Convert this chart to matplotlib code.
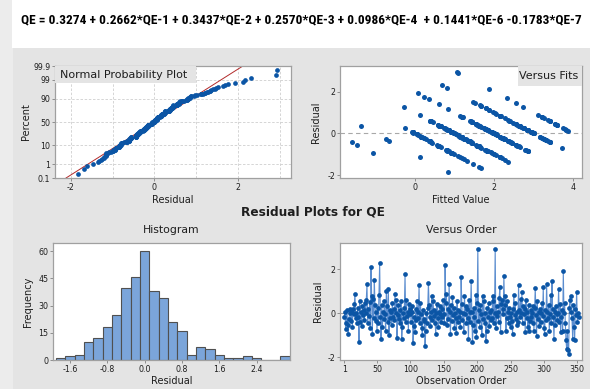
import matplotlib
matplotlib.use("Agg")
import matplotlib.pyplot as plt
from matplotlib import font_manager
from matplotlib.patches import Rectangle
from statistics import NormalDist
import numpy as np

# ---------------- data ----------------
equation = ("QE = 0.3274 + 0.2662*QE-1 + 0.3437*QE-2 + 0.2570*QE-3 + 0.0986*QE-4 "
            " + 0.1441*QE-6 -0.1783*QE-7")

# residuals in observation order
residuals = [
    -0.18, 0.05, -0.72, -0.42, 0.15, -0.55, -0.95, -0.25, 0.02, 0.22,
    -0.35, 0.08, -0.62, 0.18, -0.05, 0.42, 0.88, -0.22, 0.03, -0.44,
    0.25, -0.15, -1.28, 0.55, -0.38, 0.06, -0.58, 0.35, -0.08, 0.14,
    -0.28, 0.45, 0.00, 0.62, 1.32, -0.45, 0.20, -0.12, 0.52, -0.65,
    2.12, 0.78, -0.95, 0.65, -0.20, 1.52, 0.38, -0.35, 0.07, -0.80,
    0.26, -0.42, 0.85, 2.31, -0.18, -1.15, 0.40, -0.62, 0.04, -0.27,
    0.58, -0.05, -0.82, 1.02, 0.33, -0.40, 1.12, -1.00, 0.15, -0.22,
    0.05, -0.55, 0.45, -0.15, 0.22, -0.32, 0.88, 0.00, 0.62, -1.12,
    -0.08, 0.38, -0.25, 0.16, -0.45, 0.55, -1.15, -0.62, 0.02, -0.20,
    0.25, 1.77, -0.40, 0.60, -0.12, 0.06, -0.78, 0.42, -0.05, 0.18,
    -0.38, 0.05, 0.35, -1.35, -0.58, -0.15, -0.85, 0.20, -0.28, 0.58,
    -0.20, 0.08, 1.27, -0.42, 0.45, -0.05, -0.65, -1.00, 0.15, -0.35,
    -0.25, -1.47, -0.80, 0.02, -0.45, 0.25, 1.40, 0.38, -0.15, -0.58,
    0.05, 0.80, -0.32, 0.55, -0.12, 0.15, -0.42, -0.95, 0.00, 0.42,
    -0.22, -0.62, 0.08, 0.35, -0.05, -0.38, 0.22, -0.18, 0.62, -0.02,
    -0.45, 2.18, 0.45, 0.86, -0.55, 0.18, -0.25, 1.35, 0.05, -0.95,
    0.38, -0.35, 0.75, -0.08, 0.25, -0.68, 0.02, -0.20, -0.91, 0.55,
    -0.40, 0.15, -0.15, 0.06, -0.60, 1.64, 0.42, -0.28, 0.00, -0.85,
    0.80, -0.05, 0.35, -0.45, 0.22, -0.20, -1.15, 0.62, -0.38, 0.08,
    1.45, 0.05, -1.32, -0.55, 0.26, -0.15, -0.78, 0.85, -1.08, 0.45,
    2.91, -0.35, 0.16, -0.62, 0.38, -0.05, -1.00, 0.80, -0.25, 0.58,
    -0.42, 0.02, -1.25, -0.82, 0.25, -0.18, 0.45, -0.58, 0.08, -0.32,
    0.15, -0.22, 0.55, 0.80, -0.45, 0.00, 2.93, -0.65, 0.35, -0.12,
    0.05, -0.38, 0.72, 1.20, -0.85, 0.42, 0.60, 0.22, -0.05, 1.68,
    0.38, 0.78, -0.80, -0.20, 0.55, 0.05, -0.42, 0.25, -0.15, -0.60,
    0.02, -0.35, -0.92, 0.18, 0.85, -0.08, 0.45, -0.25, 0.08, -0.55,
    -0.40, 1.28, 0.15, -0.18, 0.65, 0.00, 0.95, -0.45, 0.35, -0.05,
    0.22, -0.85, 0.60, -0.22, 0.05, -0.62, 0.40, -0.80, -0.35, 0.14,
    -0.15, 0.02, -0.45, 0.32, -0.82, 0.25, 1.17, -0.08, -1.05, 0.55,
    -0.25, 0.06, -0.58, 0.18, -0.38, 0.00, 0.45, -0.12, 1.20, -0.65,
    -0.92, 0.15, -0.32, 1.33, 0.05, -0.20, 0.38, -0.78, -0.04, 0.82,
    -0.42, 1.48, 0.22, -0.15, -1.15, 0.08, -0.55, 0.35, -0.05, -0.28,
    0.02, 1.12, -0.38, 0.42, -0.85, -0.18, 0.15, -0.80, 1.92, 0.00,
    0.45, -0.45, -1.20, -1.62, -0.82, -1.68, -1.83, 0.25, 0.60, 0.78,
    0.05, -0.22, -1.15, 0.38, -0.62, -1.20, 0.18, -0.08, 0.98, -0.40,
    0.02, -0.15,
]

# observed (integer) QE value of each observation; fitted = observed - residual
observed = [
    1, 1, 3, -2, 1, -2, -2, 2, 2, 2,
    -1, 3, 0, 3, 0, 1, 1, 0, 2, 0,
    0, 3, 1, 1, 1, 1, 1, -1, 1, 4,
    -1, 2, 2, 2, 3, 2, 2, 1, 3, 2,
    4, 2, 0, 4, 2, 3, 3, 3, 3, 0,
    1, 1, 3, 3, 1, 0, 4, 1, 0, 2,
    2, 2, 1, 3, 2, 0, 3, 1, 3, 0,
    1, 0, 3, 3, 1, 1, 4, 1, 1, -1,
    2, 1, 1, 2, 2, 2, 1, 1, 3, 2,
    3, 2, 3, 3, 1, 0, 2, 2, 2, 4,
    1, 1, 3, 1, 2, 2, 0, 2, 0, 4,
    3, 1, 4, 0, 4, 2, 1, 0, 1, 1,
    1, 0, 1, 3, 2, 3, 2, 2, 2, 0,
    0, 2, 3, 2, 1, 1, 1, 1, 2, 3,
    2, 1, 1, 1, 1, 0, 2, 0, 1, 2,
    1, 3, 2, 3, 2, 3, 3, 3, 3, 0,
    3, 2, 4, 0, 4, 1, 2, 1, 1, 2,
    3, 2, 2, 1, 0, 2, 4, 1, 1, 2,
    2, 2, 2, 1, 1, 2, 1, 3, 0, 3,
    4, 0, 0, 1, 3, 0, 0, 3, 0, 3,
    4, 1, 1, 2, 1, 2, 1, 4, 3, 4,
    2, 1, 0, 1, 2, 1, 2, 1, 1, 3,
    3, 2, 2, 2, 1, 2, 4, 0, 3, 1,
    3, 0, 3, 3, 2, 4, 1, 4, 0, 4,
    2, 4, 0, 2, 2, 2, 1, 2, 0, 1,
    1, 2, 0, 1, 2, 1, 3, 3, 2, 2,
    3, 1, 3, 1, 3, 3, 3, 1, 1, 0,
    1, 1, 4, 2, 2, 1, 2, 2, 0, 2,
    1, 1, 1, 3, 0, 3, 2, 1, 1, 2,
    2, 2, 0, 4, 2, 3, 4, 0, 3, 1,
    0, 2, 3, 3, 0, 3, 2, 1, 2, 3,
    1, 3, 1, 1, 1, 1, 2, 3, 1, 2,
    2, 3, 0, 1, 2, 1, 3, 0, 2, 3,
    2, 1, 0, 0, 1, 0, -1, 1, 1, 4,
    0, 2, 1, 3, 1, 1, 2, 2, 3, 2,
    1, 0,
]

# histogram bins (centres) and frequencies
hist_centers = [-1.8, -1.6, -1.4, -1.2, -1.0, -0.8, -0.6, -0.4, -0.2, 0.0,
                0.2, 0.4, 0.6, 0.8, 1.0, 1.2, 1.4, 1.6, 1.8, 2.0,
                2.2, 2.4, 2.6, 2.8, 3.0]
hist_counts = [1, 2, 3, 10, 12, 18, 25, 40, 46, 60,
               38, 34, 21, 16, 3, 7, 6, 3, 1, 1,
               2, 1, 0, 0, 2]

pct_ticks = [0.1, 1, 10, 50, 90, 99, 99.9]
pct_labels = ["0.1", "1", "10", "50", "90", "99", "99.9"]
pct_grid = [1, 10, 50, 90, 99]
order_ticks = [1, 50, 100, 150, 200, 250, 300, 350]

# ---------------- style ----------------
plt.rcParams["font.family"] = ["DejaVu Sans"]
plt.rcParams["axes.unicode_minus"] = False

W, H = 590, 389
BG = "#e4e4e4"
PT = "#0b55a5"
LINE = "#5b8dcf"
FRAME = "#a0a0a0"
TXT = "#1e1e1e"

fig = plt.figure(figsize=(W / 100, H / 100), dpi=100)
fig.patch.set_facecolor(BG)
fig.add_artist(Rectangle((0, 0), 13 / W, 1, transform=fig.transFigure,
                         facecolor="#ececec", edgecolor="none", zorder=-5))
fig.add_artist(Rectangle((12 / W, 1 - 48 / H), 1 - 12 / W, 48 / H,
                         transform=fig.transFigure, facecolor="white",
                         edgecolor="none", zorder=-4))


def px_axes(l, t, r, b):
    return fig.add_axes([l / W, 1 - b / H, (r - l) / W, (b - t) / H])


def style(ax):
    ax.set_facecolor("white")
    for s in ax.spines.values():
        s.set_color(FRAME)
        s.set_linewidth(0.9)
    ax.tick_params(axis="both", labelsize=5.7, length=2, width=0.6,
                   color="#808080", labelcolor=TXT, pad=1.5)


def labels(ax, l, t, r, b, xlab, ylab, xlab_cy, ylab_cx):
    """Place axis labels by their centre position in figure pixels."""
    ax.set_xlabel(xlab, size=7, color=TXT)
    ax.set_ylabel(ylab, size=7, color=TXT)
    ax.xaxis.set_label_coords(0.5, (b - (xlab_cy - 5)) / (b - t))
    ax.yaxis.set_label_coords(((ylab_cx + 4.5) - l) / (r - l), 0.5)


# equation title (narrow bold font if available)
def pick_font(cands):
    for name in cands:
        try:
            font_manager.findfont(font_manager.FontProperties(family=name),
                                  fallback_to_default=False)
            return name
        except Exception:
            continue
    return "DejaVu Sans"


eq_font = pick_font(["Liberation Sans Narrow", "Roboto Condensed",
                     "Liberation Sans", "DejaVu Sans"])
eq = fig.text(301.5 / W, 1 - 20 / H, equation, ha="center", va="center",
              family=[eq_font, "DejaVu Sans"], weight="bold", size=10,
              color="black")
fig.canvas.draw()
bw = eq.get_window_extent().width
eq.set_fontsize(10 * 563 / bw)

fig.text(313 / W, 1 - 212 / H, "Residual Plots for QE", ha="center",
         va="center", weight="bold", size=8.7, color=TXT)

# ---------------- Normal probability plot ----------------
res = np.array(residuals)
n = len(res)
srt = np.sort(res)
nd = NormalDist()
zq = np.array([nd.inv_cdf((i - 0.3) / (n + 0.4)) for i in range(1, n + 1)])
mu, sd = res.mean(), res.std(ddof=1)
zlim = nd.inv_cdf(0.001)

ax1 = px_axes(55, 66, 291, 178)
style(ax1)
ax1.set_xlim(-2.38, 3.27)
ax1.set_ylim(zlim, -zlim)
for gx in [-2, -1, 0, 1, 2, 3]:
    ax1.axvline(gx, color="#cfcfcf", lw=0.6, dashes=(3, 2), zorder=0)
for gp in pct_grid:
    ax1.axhline(nd.inv_cdf(gp / 100), color="#cfcfcf", lw=0.6,
                dashes=(3, 2), zorder=0)
zz = np.array([zlim, -zlim])
ax1.plot(mu + sd * zz, zz, color="#b22a2a", lw=0.7, zorder=2)
ax1.plot(srt, zq, "o", ms=3.4, color=PT, mec="none", zorder=3)
ax1.set_xticks([-2, 0, 2])
ax1.set_yticks([nd.inv_cdf(p / 100) for p in pct_ticks])
ax1.set_yticklabels(pct_labels)
labels(ax1, 55, 66, 291, 178, "Residual", "Percent", 199.5, 26)
ax1.add_patch(Rectangle((0, (178 - 83) / 112), 141 / 236, 17 / 112,
                        transform=ax1.transAxes, facecolor="#e4e4e4",
                        edgecolor="none", zorder=4))
ax1.text(5 / 236, (178 - 75) / 112, "Normal Probability Plot",
         transform=ax1.transAxes, ha="left", va="center", size=8,
         color=TXT, zorder=5)

# ---------------- Versus fits ----------------
fitted = np.array(observed) - res
ax2 = px_axes(340, 66, 582, 178)
style(ax2)
ax2.set_xlim(-1.89, 4.22)
ax2.set_ylim(-2.14, 3.24)
ax2.axhline(0, color="#a8a8a8", lw=0.8, dashes=(4, 3), zorder=1)
ax2.plot(fitted, res, "o", ms=3.6, color=PT, mec="none", zorder=3)
ax2.set_xticks([0, 2, 4])
ax2.set_yticks([-2, 0, 2])
labels(ax2, 340, 66, 582, 178, "Fitted Value", "Residual", 200, 317)
ax2.add_patch(Rectangle(((518 - 340) / 242, (178 - 86) / 112),
                        64 / 242, 20 / 112, transform=ax2.transAxes,
                        facecolor="#e4e4e4", edgecolor="none", zorder=4))
ax2.text((549 - 340) / 242, (178 - 76) / 112, "Versus Fits",
         transform=ax2.transAxes, ha="center", va="center", size=8,
         color=TXT, zorder=5)

# ---------------- Histogram ----------------
ax3 = px_axes(53, 243, 290, 360)
style(ax3)
ax3.bar(hist_centers, hist_counts, width=0.2, color="#7ba5da",
        edgecolor="#505050", linewidth=0.8, zorder=2)
ax3.set_xlim(-1.96, 3.11)
ax3.set_ylim(0, 64.6)
ax3.set_xticks([-1.6, -0.8, 0.0, 0.8, 1.6, 2.4])
ax3.set_xticklabels(["-1.6", "-0.8", "0.0", "0.8", "1.6", "2.4"])
ax3.set_yticks([0, 15, 30, 45, 60])
labels(ax3, 53, 243, 290, 360, "Residual", "Frequency", 381, 29)
ax3.text(0.5, 1 + 13 / 117, "Histogram", transform=ax3.transAxes,
         ha="center", va="center", size=7.8, color=TXT)

# ---------------- Versus order ----------------
order = np.arange(1, n + 1)
ax4 = px_axes(340, 243, 582, 360)
style(ax4)
ax4.set_xlim(-5.4, 357)
ax4.set_ylim(-2.12, 3.2)
ax4.axhline(0, color="#a8a8a8", lw=0.8, dashes=(4, 3), zorder=1)
ax4.plot(order, res, "-", color=LINE, lw=0.8, zorder=2)
ax4.plot(order, res, "o", ms=3.4, color=PT, mec="none", zorder=3)
ax4.set_xticks(order_ticks)
ax4.set_yticks([-2, 0, 2])
labels(ax4, 340, 243, 582, 360, "Observation Order", "Residual", 381, 318)
ax4.text(0.5, 1 + 13 / 117, "Versus Order", transform=ax4.transAxes,
         ha="center", va="center", size=7.8, color=TXT)

fig.savefig("out.png", dpi=100, facecolor=fig.get_facecolor())
